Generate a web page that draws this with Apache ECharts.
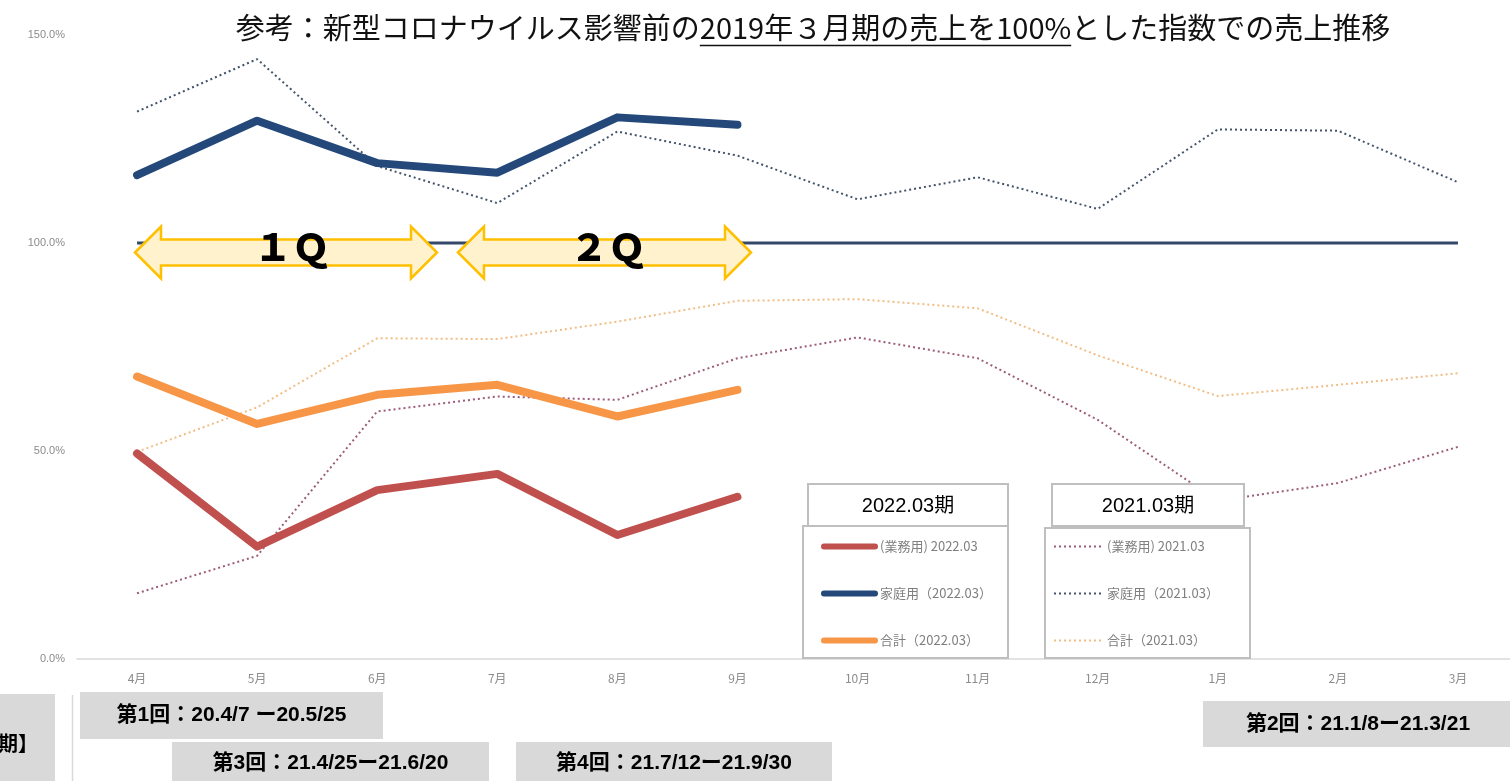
<!DOCTYPE html>
<html>
<head>
<meta charset="utf-8">
<script src="https://cdn.jsdelivr.net/npm/echarts@6/dist/echarts.min.js"></script>
<style>
html,body{margin:0;padding:0;background:#fff;overflow:hidden;width:1510px;height:781px;}
#chart{width:1518px;height:781px;}
</style>
</head>
<body>
<div id="chart"></div>
<script>
// ---- data ----
const months = ['4月','5月','6月','7月','8月','9月','10月','11月','12月','1月','2月','3月'];
const gyomu2022 = [49.4, 27.0, 40.6, 44.5, 29.8, 39.0];
const katei2022 = [116.3, 129.4, 119.2, 116.9, 130.2, 128.4];
const gokei2022 = [67.9, 56.5, 63.5, 65.9, 58.3, 64.7];
const gyomu2021 = [15.8, 24.8, 59.5, 63.1, 62.3, 72.3, 77.3, 72.3, 57.5, 38.0, 42.3, 51.0];
const katei2021 = [131.6, 144.2, 118.5, 109.6, 126.8, 121.0, 110.5, 115.8, 108.2, 127.3, 127.0, 114.6];
const gokei2021 = [49.8, 60.5, 77.1, 76.9, 81.1, 86.1, 86.5, 84.3, 73.0, 63.2, 65.9, 68.7];
const base2019 = [100, 100, 100, 100, 100, 100, 100, 100, 100, 100, 100, 100];
const seriesNames2022 = ['(業務用) 2022.03', '家庭用（2022.03）', '合計（2022.03）'];
const seriesNames2021 = ['(業務用) 2021.03', '家庭用（2021.03）', '合計（2021.03）'];
const yTicks = [0, 50, 100, 150];
const titleParts = ['参考：新型コロナウイルス影響前の', '2019年３月期の売上を100%', 'とした指数での売上推移'];
const legendHeaders = ['2022.03期', '2021.03期'];
const quarterLabels = ['１Ｑ', '２Ｑ'];
const periodLabels = ['第1回：20.4/7 ー20.5/25', '第2回：21.1/8ー21.3/21', '第3回：21.4/25ー21.6/20', '第4回：21.7/12ー21.9/30', '時期】'];

// ---- styles ----
const C_RED = '#c0504d', C_NAVY = '#24487a', C_ORANGE = '#f79646';
const C_MAUVE = '#9c5d7a', C_SLATE = '#44546a', C_TAN = '#f1bd85';
const CJK = '"Noto Sans CJK JP", "Noto Sans", sans-serif';
const LAT = '"Liberation Sans", "Noto Sans CJK JP", sans-serif';
const TITLE_FS = 29;

const chart = echarts.init(document.getElementById('chart'));

// measure title parts for underline placement
const ctx = document.createElement('canvas').getContext('2d');
ctx.font = TITLE_FS + 'px ' + CJK;
const wA = ctx.measureText(titleParts[0]).width;
const wB = ctx.measureText(titleParts[1]).width;
const wC = ctx.measureText(titleParts[2]).width;
const tStart = 813 - (wA + wB + wC) / 2;

function thick(name, data, color) {
  return {
    name, type: 'line', data, symbol: 'none', z: 3,
    lineStyle: { color, width: 8, cap: 'round', join: 'round' },
    itemStyle: { color }
  };
}
function dotted(name, data, color) {
  return {
    name, type: 'line', data, symbol: 'none', z: 2,
    lineStyle: { color, width: 2, type: [2, 3] },
    itemStyle: { color }
  };
}
function arrow(x0, x1) {
  const h = 26, yc = 252.5;
  return {
    type: 'polygon', z: 6,
    shape: { points: [
      [x0, yc], [x0 + h, yc - 26], [x0 + h, yc - 13], [x1 - h, yc - 13], [x1 - h, yc - 26],
      [x1, yc], [x1 - h, yc + 26], [x1 - h, yc + 13], [x0 + h, yc + 13], [x0 + h, yc + 26]
    ] },
    style: { fill: '#fff2cc', stroke: '#ffc000', lineWidth: 2.5 }
  };
}
function grayBox(x, y, w, h, text, fs) {
  return [
    { type: 'rect', z: 6, shape: { x, y, width: w, height: h }, style: { fill: '#d9d9d9' } },
    { type: 'text', z: 7, x: x + w / 2, y: y + h / 2,
      style: { text, fill: '#000', font: 'bold ' + fs + 'px ' + LAT, align: 'center', verticalAlign: 'middle' } }
  ];
}

const graphics = [
  // title
  { type: 'text', z: 7, x: tStart, y: 28, style: { text: titleParts[0], fill: '#111', font: TITLE_FS + 'px ' + CJK, verticalAlign: 'middle' } },
  { type: 'text', z: 7, x: tStart + wA, y: 28, style: { text: titleParts[1], fill: '#111', font: TITLE_FS + 'px ' + CJK, verticalAlign: 'middle' } },
  { type: 'text', z: 7, x: tStart + wA + wB, y: 28, style: { text: titleParts[2], fill: '#111', font: TITLE_FS + 'px ' + CJK, verticalAlign: 'middle' } },
  { type: 'line', z: 7, shape: { x1: tStart + wA, y1: 45.5, x2: tStart + wA + wB, y2: 45.5 }, style: { stroke: '#111', lineWidth: 1.5 } },
  // quarter arrows
  arrow(135, 437), arrow(458, 751),
  { type: 'text', z: 7, x: 292, y: 247, style: { text: quarterLabels[0], fill: '#000', font: '900 38px ' + CJK, align: 'center', verticalAlign: 'middle' } },
  { type: 'text', z: 7, x: 608, y: 247, style: { text: quarterLabels[1], fill: '#000', font: '900 38px ' + CJK, align: 'center', verticalAlign: 'middle' } },
  // legend boxes
  { type: 'rect', z: 4, shape: { x: 803, y: 526, width: 205, height: 132 }, style: { fill: '#fff', stroke: '#bfbfbf', lineWidth: 2 } },
  { type: 'rect', z: 4, shape: { x: 808, y: 484, width: 200, height: 42 }, style: { fill: '#fff', stroke: '#bfbfbf', lineWidth: 2 } },
  { type: 'text', z: 7, x: 908, y: 506, style: { text: legendHeaders[0], fill: '#000', font: '20px ' + LAT, align: 'center', verticalAlign: 'middle' } },
  { type: 'rect', z: 4, shape: { x: 1045, y: 528, width: 205, height: 130 }, style: { fill: '#fff', stroke: '#bfbfbf', lineWidth: 2 } },
  { type: 'rect', z: 4, shape: { x: 1052, y: 484, width: 192, height: 42 }, style: { fill: '#fff', stroke: '#bfbfbf', lineWidth: 2 } },
  { type: 'text', z: 7, x: 1148, y: 506, style: { text: legendHeaders[1], fill: '#000', font: '20px ' + LAT, align: 'center', verticalAlign: 'middle' } },
  // bottom period labels
  ...grayBox(80, 692, 303, 47, periodLabels[0], 21),
  ...grayBox(1203, 701, 310, 46, periodLabels[1], 21),
  ...grayBox(172, 742, 317, 42, periodLabels[2], 21),
  ...grayBox(516, 742, 316, 42, periodLabels[3], 21),
  { type: 'rect', z: 6, shape: { x: -2, y: 694, width: 57, height: 90 }, style: { fill: '#d9d9d9' } },
  { type: 'text', z: 7, x: 38, y: 743, style: { text: periodLabels[4], fill: '#000', font: 'bold 20px ' + CJK, align: 'right', verticalAlign: 'middle' } },
  { type: 'line', z: 6, shape: { x1: 72.5, y1: 695, x2: 72.5, y2: 781 }, style: { stroke: '#d9d9d9', lineWidth: 1.5 } }
];

const legendCommon = {
  orient: 'vertical', itemGap: 33, itemHeight: 14, selectedMode: false, z: 5, padding: 0,
  itemStyle: { color: 'transparent', borderWidth: 0, opacity: 0 },
  textStyle: { color: '#7f7f7f', fontSize: 13, fontFamily: CJK }
};

chart.setOption({
  animation: false,
  backgroundColor: '#fff',
  grid: { left: 77, right: 0, top: 35, bottom: 122, containLabel: false },
  xAxis: {
    type: 'category', data: months, boundaryGap: true,
    axisLine: { lineStyle: { color: '#d9d9d9', width: 1.5 } },
    axisTick: { show: false },
    axisLabel: { color: '#8c8c8c', fontSize: 12, margin: 13, fontFamily: CJK }
  },
  yAxis: {
    type: 'value', min: yTicks[0], max: yTicks[yTicks.length - 1], interval: 50,
    axisLine: { show: false }, axisTick: { show: false }, splitLine: { show: false },
    axisLabel: { color: '#8c8c8c', fontSize: 11, margin: 12, fontFamily: LAT,
      formatter: v => v.toFixed(1) + '%' }
  },
  legend: [
    Object.assign({}, legendCommon, { left: 821, top: 540, itemWidth: 51, itemGap: 34, data: seriesNames2022,
      lineStyle: { width: 6, cap: 'round' } }),
    Object.assign({}, legendCommon, { left: 1053, top: 540, itemWidth: 48, itemGap: 34, data: seriesNames2021,
      lineStyle: { width: 2 } })
  ],
  graphic: graphics,
  series: [
    { name: '2019.03期', type: 'line', data: base2019, symbol: 'none', z: 2,
      lineStyle: { color: '#34496a', width: 3 } },
    dotted(seriesNames2021[0], gyomu2021, C_MAUVE),
    dotted(seriesNames2021[1], katei2021, C_SLATE),
    dotted(seriesNames2021[2], gokei2021, C_TAN),
    thick(seriesNames2022[0], gyomu2022, C_RED),
    thick(seriesNames2022[1], katei2022, C_NAVY),
    thick(seriesNames2022[2], gokei2022, C_ORANGE)
  ]
});
</script>
</body>
</html>
